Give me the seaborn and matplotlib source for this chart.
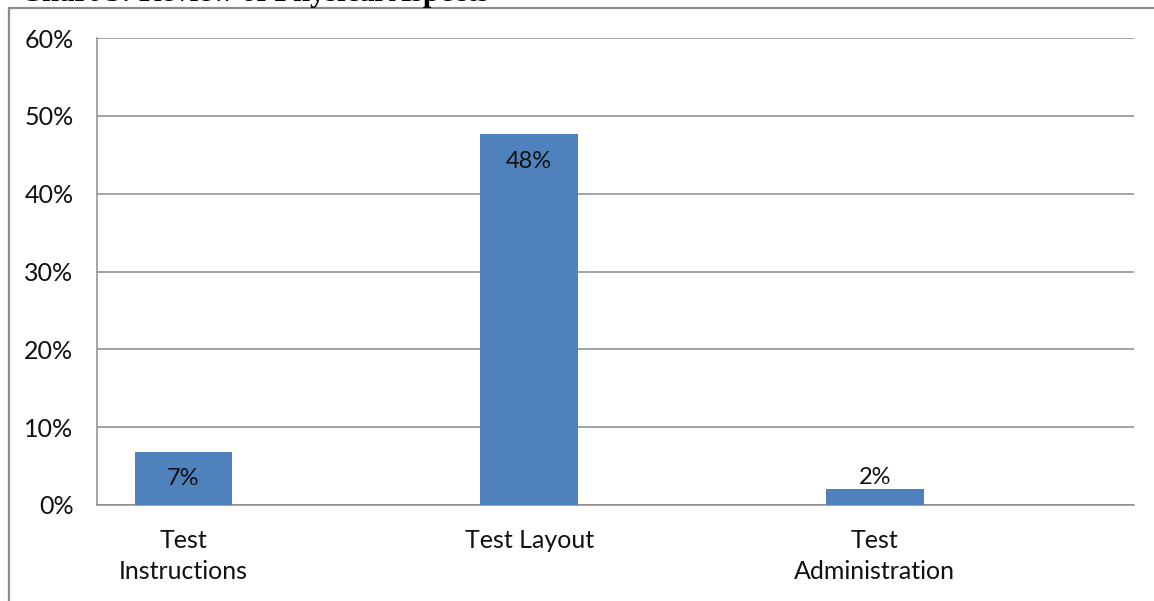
import matplotlib
matplotlib.use('Agg')
import matplotlib.pyplot as plt
import seaborn as sns
import pandas as pd
from matplotlib.lines import Line2D
from matplotlib.ticker import FuncFormatter

categories = ["Test\nInstructions", "Test Layout", "Test\nAdministration"]
values = [6.8, 47.7, 2.1]  # percent
yticks = [0, 10, 20, 30, 40, 50, 60]
title = "Chart 3: Review of Physical Aspects"

BAR = "#4F81BD"
GRID = "#8c8c8c"

sns.set_theme(style="white")
plt.rcParams['font.family'] = ['Lato', 'DejaVu Sans']

df = pd.DataFrame({"category": categories, "value": values})

fig = plt.figure(figsize=(11.54, 6.01), dpi=100)
ax = fig.add_axes([97 / 1154, 96 / 601, 1037 / 1154, 467 / 601])

sns.barplot(data=df, x="category", y="value", color=BAR, width=0.283,
            saturation=1, linewidth=0, ax=ax, zorder=3)

ax.set_ylim(0, 60)
ax.set_xlim(-0.25, 2.75)
ax.set_yticks(yticks)
ax.yaxis.set_major_formatter(FuncFormatter(lambda v, p: f"{v:.0f}%"))
ax.yaxis.grid(True, color=GRID, linewidth=1.1, zorder=0)
ax.set_xlabel("")
ax.set_ylabel("")
ax.tick_params(axis='y', length=0, pad=17, labelsize=18, colors="#111111")
ax.tick_params(axis='x', length=0, pad=17, labelsize=18, colors="#111111")
for lbl in ax.get_xticklabels():
    lbl.set_linespacing(1.45)

for s in ["top", "right"]:
    ax.spines[s].set_visible(False)
for s in ["left", "bottom"]:
    ax.spines[s].set_color(GRID)
    ax.spines[s].set_linewidth(1.1)

# value labels (Excel-style placement)
offsets = [-26, -28, 11]
for i, v in enumerate(values):
    ax.annotate(f"{v:.0f}%", (i, v), xytext=(0, offsets[i] * 0.72),
                textcoords="offset points", ha="center", va="center",
                fontsize=17, color="#111111", zorder=4)

# outer chart frame
fig.add_artist(Line2D([9 / 1154, 9 / 1154], [0, 1 - 8 / 601],
                      transform=fig.transFigure, color=GRID, linewidth=1.6))
fig.add_artist(Line2D([9 / 1154, 1], [1 - 8 / 601, 1 - 8 / 601],
                      transform=fig.transFigure, color=GRID, linewidth=1.6))

# clipped caption above the frame
fig.text(20 / 1154, 1 - 1.0 / 601, title, family="Liberation Serif",
         fontweight="bold", fontsize=22, va="baseline", ha="left", color="black")

fig.savefig("out.png", dpi=100)
plt.close(fig)
